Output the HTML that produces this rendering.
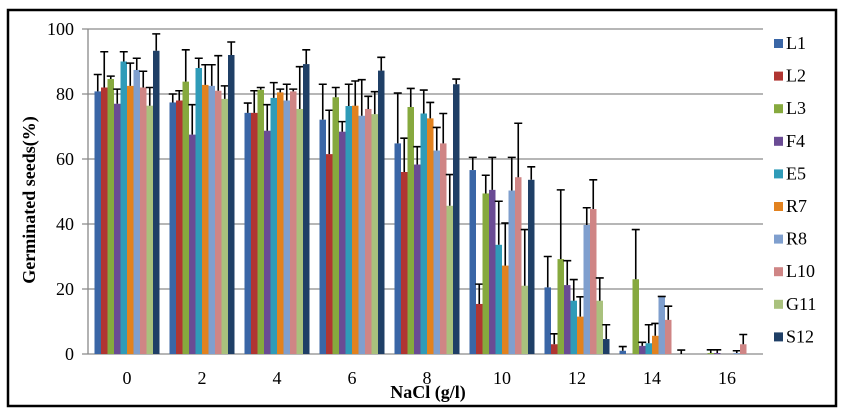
<!DOCTYPE html>
<html><head><meta charset="utf-8"><style>
body{margin:0;background:#fff;}
svg{display:block;}
svg text{font-family:"Liberation Serif","DejaVu Serif",serif;}
</style></head><body>
<svg id="chart" width="844" height="419" font-family="Liberation Serif, DejaVu Serif, serif">
<defs>
<clipPath id="plotclip"><rect x="88" y="0" width="676" height="360"/></clipPath>
</defs>
<rect x="8" y="10" width="828" height="396" fill="#fff" stroke="#000" stroke-width="2.5"/>
<g id="grid"></g>
<g id="bars" clip-path="url(#plotclip)"></g>
<g id="axes"></g>
<text x="35" y="200" transform="rotate(-90 35 200)" text-anchor="middle" font-size="18" font-weight="bold" font-family="Liberation Serif, serif">Germinated seeds(%)</text>
<text x="428" y="398" text-anchor="middle" font-size="18" font-weight="bold" font-family="Liberation Serif, serif">NaCl (g/l)</text>
<g id="legend"></g>
</svg>
<script>
const categories=["0","2","4","6","8","10","12","14","16"];
const seriesNames=["L1","L2","L3","F4","E5","R7","R8","L10","G11","S12"];
const colors=["#3a66a6","#b03532","#86a93e","#6a4b94","#2f9bb8","#e2821f","#7f9fce","#cf8585","#a9c17d","#1f3f66"];
const L1=[80.8,77.4,74.2,72.1,64.8,56.6,20.5,1,0];
const L2=[82,78,74.2,61.5,56,15.4,3,0,0];
const L3=[84.6,83.8,81.3,79,76,49.4,29.2,23,0.3];
const F4=[77,67.5,68.7,68.4,58.3,50.5,21.2,2.5,0.3];
const E5=[90,88,78.8,76.3,74,33.6,16.4,3.3,0];
const R7=[82.5,82.8,80.5,76.4,72.5,27.2,11.5,5.6,0];
const R8=[87.4,82.5,78,73.3,62.6,50.3,39.7,17.7,0.3];
const L10=[82,81,80.8,75.4,64.8,54.4,44.6,10.5,3];
const G11=[76.4,78.5,75.4,73.8,45.6,21,16.4,0,0];
const S12=[93.3,92,89.2,87.2,83,53.6,4.6,0,0];
const L1e=[86,80,77.2,83,80.3,60.5,30,2.3,null];
const L2e=[93,81,81,75,66.4,21.5,6.2,null,null];
const L3e=[85.5,93.6,82,82,81.7,55,50.5,38.3,1.3];
const F4e=[81.5,76.7,76.7,71.5,63.8,60.5,28.7,3.6,1.3];
const E5e=[93,91,83.5,83,81.2,47,22.9,9,null];
const R7e=[89.5,89,81.5,84,77.4,40.3,17.6,9.4,null];
const R8e=[91,89,83,84.4,69.7,60.5,45,17.7,1];
const L10e=[87,91.8,81.5,79.3,74,71,53.6,14.7,6];
const G11e=[82,82.5,88.4,80.7,55.2,38.3,23.4,null,null];
const S12e=[98.5,96,93.6,91.3,84.6,57.6,9,1.2,null];
const yTicks=[0,20,40,60,80,100];
const values=[L1,L2,L3,F4,E5,R7,R8,L10,G11,S12];
const errs=[L1e,L2e,L3e,F4e,E5e,R7e,R8e,L10e,G11e,S12e];
const NS="http://www.w3.org/2000/svg";
const FF="Liberation Serif, DejaVu Serif, serif";
const x0=88,x1=763,yTop=29,yBot=354,step=75,barW=6.5;
function yS(v){return yBot-(v/100)*(yBot-yTop);}
function gx(i){return 127+step*i;}
function bx(i,j){return gx(i)-barW*seriesNames.length/2+j*barW;}
function mk(tag,attrs,parent){const e=document.createElementNS(NS,tag);for(const k in attrs)e.setAttribute(k,attrs[k]);parent.appendChild(e);return e;}
const grid=document.getElementById('grid'),bars=document.getElementById('bars'),axes=document.getElementById('axes'),leg=document.getElementById('legend');
yTicks.forEach(t=>{
 const l=mk('line',{x1:x0-6,x2:x1,y1:yS(t),y2:yS(t),stroke:'#8a8a8a','stroke-width':1.3},grid);
 
 
 const tx=mk('text',{x:74,y:yS(t)+6,'text-anchor':'end','font-size':18,'font-family':FF},axes);
 tx.textContent=t;
 
 
});
const ax=mk('line',{x1:x0,x2:x0,y1:yTop,y2:yBot,stroke:'#888','stroke-width':1.3},axes);


categories.forEach((c,i)=>{
 const tx=mk('text',{x:gx(i),y:384,'text-anchor':'middle','font-size':18,'font-family':FF},axes);
 tx.textContent=c;
 
 
});
values.forEach((arr,j)=>{
 arr.forEach((v,i)=>{
  const r=mk('rect',{x:bx(i,j),y:yS(v),width:barW,height:yBot-yS(v),fill:colors[j]},bars);
  
  
  const e=errs[j][i];
  if(e!==null){
   const cx=bx(i,j)+barW/2;
   const g=mk('path',{d:`M${cx},${yS(v)}V${yS(e)}M${cx-4},${yS(e)}H${cx+4}`,stroke:'#000','stroke-width':1.6,fill:'none'},bars);
   
   
  }
 });
});
seriesNames.forEach((n,j)=>{
 const y=45+j*32.6;
 const r=mk('rect',{x:774,y:y-6,width:9,height:9,fill:colors[j]},leg);
 
 
 const t=mk('text',{x:786,y:y+4,'font-size':18,'font-family':FF},leg);
 t.textContent=n;
 
 
});
</script>
</body></html>
